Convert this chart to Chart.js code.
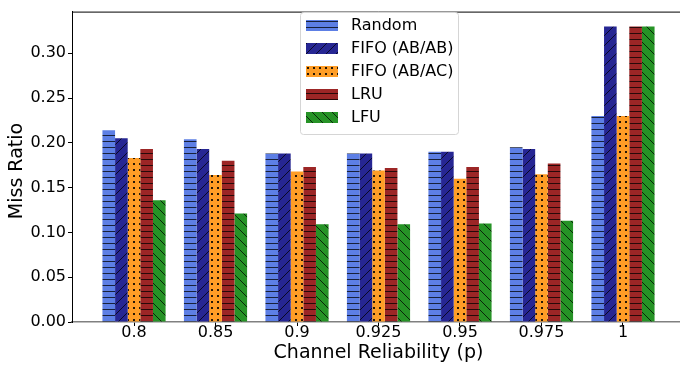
<!DOCTYPE html>
<html lang="en">
<head>
    <meta charset="UTF-8">
    <title>Miss Ratio vs Channel Reliability</title>
    <script src="https://cdn.jsdelivr.net/npm/chart.js"></script>
    <style>
        html, body {
            margin: 0;
            padding: 0;
            background: white;
            overflow: hidden;
        }
        .wrap {
            width: 700px;
            height: 368px;
        }
    </style>
</head>
<body>
    <div class="wrap"><canvas id="missChart" width="700" height="368"></canvas></div>
    <script>
        // data
        const reliability = ["0.8", "0.85", "0.9", "0.925", "0.95", "0.975", "1"];
        const seriesNames = ["Random", "FIFO (AB/AB)", "FIFO (AB/AC)", "LRU", "LFU"];
        const randomMiss = [0.214, 0.204, 0.188, 0.188, 0.190, 0.195, 0.230];
        const fifoAbAb   = [0.205, 0.193, 0.188, 0.188, 0.190, 0.193, 0.330];
        const fifoAbAc   = [0.183, 0.164, 0.168, 0.169, 0.160, 0.165, 0.230];
        const lruMiss    = [0.193, 0.180, 0.173, 0.172, 0.173, 0.177, 0.330];
        const lfuMiss    = [0.136, 0.121, 0.109, 0.109, 0.110, 0.113, 0.330];
        const yTicks = [0, 0.05, 0.10, 0.15, 0.20, 0.25, 0.30];

        const FONT = "'DejaVu Sans', sans-serif";

        function makePattern(color, hatch) {
            const c = document.createElement("canvas");
            const s = hatch === "-" ? 6 : (hatch === "dots" ? 6 : 10);
            c.width = s; c.height = s;
            const g = c.getContext("2d");
            g.fillStyle = color;
            g.fillRect(0, 0, s, s);
            g.strokeStyle = "rgba(0,0,0,0.75)";
            g.fillStyle = "rgba(0,0,0,0.85)";
            g.lineWidth = 1;
            if (hatch === "-") {
                g.beginPath();
                g.moveTo(0, 3.5); g.lineTo(s, 3.5);
                g.stroke();
            } else if (hatch === "/") {
                g.beginPath();
                g.moveTo(0, s); g.lineTo(s, 0);
                g.moveTo(-2, 2); g.lineTo(2, -2);
                g.moveTo(s - 2, s + 2); g.lineTo(s + 2, s - 2);
                g.stroke();
            } else if (hatch === "\\") {
                g.beginPath();
                g.moveTo(0, 0); g.lineTo(s, s);
                g.moveTo(-2, s - 2); g.lineTo(2, s + 2);
                g.moveTo(s - 2, -2); g.lineTo(s + 2, 2);
                g.stroke();
            } else if (hatch === "dots") {
                g.fillRect(1, 1, 2, 2);
            }
            return g.createPattern(c, "repeat");
        }

        const colors = ["#5d7fe5", "#262693", "#ff9d26", "#9c2626", "#269326"];
        const hatches = ["-", "/", "dots", "-", "\\"];
        const values = [randomMiss, fifoAbAb, fifoAbAc, lruMiss, lfuMiss];

        const datasets = seriesNames.map((name, i) => ({
            label: name,
            data: values[i].map((v, j) => ({ x: j, y: v })),
            backgroundColor: makePattern(colors[i], hatches[i]),
            borderWidth: 0,
            categoryPercentage: 0.775,
            barPercentage: 1.0
        }));

        const legendInside = {
            id: "legendInside",
            afterDraw(chart) {
                const ctx = chart.ctx;
                const area = chart.chartArea;
                ctx.save();
                // top spine
                ctx.strokeStyle = "#000";
                ctx.lineWidth = 1;
                ctx.beginPath();
                ctx.moveTo(area.left, area.top + 0.5);
                ctx.lineTo(area.right, area.top + 0.5);
                ctx.stroke();

                // y axis title
                ctx.save();
                ctx.translate(17, 171);
                ctx.rotate(-Math.PI / 2);
                ctx.font = "19px " + FONT;
                ctx.fillStyle = "#000";
                ctx.textAlign = "center";
                ctx.textBaseline = "middle";
                ctx.fillText("Miss Ratio", 0, 0);
                ctx.restore();

                const bx = 300, by = 12, bw = 158, bh = 122;
                ctx.fillStyle = "rgba(255,255,255,0.85)";
                ctx.strokeStyle = "#d5d5d5";
                ctx.beginPath();
                ctx.roundRect(bx + 0.5, by + 0.5, bw, bh, 3);
                ctx.fill();
                ctx.stroke();

                const rows = [25.5, 48.5, 71.5, 94.5, 117.5];
                ctx.font = "16px " + FONT;
                ctx.textBaseline = "middle";
                chart.data.datasets.forEach((ds, i) => {
                    ctx.fillStyle = ds.backgroundColor;
                    ctx.fillRect(306, rows[i] - 5.5, 32, 11);
                    ctx.fillStyle = "#000";
                    ctx.fillText(ds.label, 351, rows[i]);
                });
                ctx.restore();
            }
        };

        new Chart(document.getElementById("missChart"), {
            type: "bar",
            data: { datasets: datasets },
            options: {
                responsive: false,
                animation: false,
                layout: { padding: { top: 4, right: 15, left: 0, bottom: 0 } },
                plugins: {
                    legend: { display: false },
                    tooltip: { enabled: false }
                },
                scales: {
                    x: {
                        type: "linear",
                        offset: false,
                        min: -0.761,
                        max: 6.761,
                        afterBuildTicks(scale) {
                            scale.ticks = reliability.map((_, i) => ({ value: i }));
                        },
                        afterFit(scale) { scale.height = 46; },
                        ticks: {
                            callback: (v) => reliability[v],
                            color: "#000",
                            font: { family: FONT, size: 16 },
                            padding: -3,
                            maxRotation: 0,
                            autoSkip: false
                        },
                        grid: {
                            offset: false,
                            drawOnChartArea: false,
                            drawTicks: true,
                            tickLength: 4,
                            color: "#000"
                        },
                        border: { display: true, color: "#808080", width: 1.5 },
                        title: {
                            display: true,
                            text: "Channel Reliability (p)",
                            color: "#000",
                            font: { family: FONT, size: 19 },
                            padding: { top: 0, bottom: 4 }
                        }
                    },
                    y: {
                        min: 0,
                        max: 0.3465,
                        afterBuildTicks(scale) {
                            scale.ticks = yTicks.map(v => ({ value: v }));
                        },
                        afterFit(scale) { scale.width = 72; },
                        ticks: {
                            callback: (v) => v.toFixed(2),
                            color: "#000",
                            font: { family: FONT, size: 16 },
                            padding: 2
                        },
                        grid: {
                            drawOnChartArea: false,
                            drawTicks: true,
                            tickLength: 4,
                            color: "#000"
                        },
                        border: { display: true, color: "#000", width: 1 },
                        title: { display: false }
                    }
                }
            },
            plugins: [legendInside]
        });
    </script>
</body>
</html>
